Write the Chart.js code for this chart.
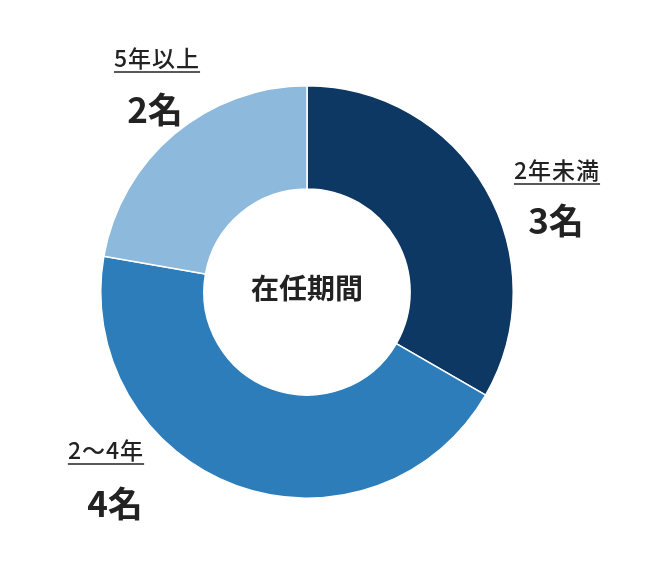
<!DOCTYPE html>
<html>
<head>
<meta charset="utf-8">
<script src="https://cdn.jsdelivr.net/npm/chart.js@4"></script>
<style>
  body { margin: 0; background: #fff; }
  canvas { display: block; }
</style>
</head>
<body>
<canvas id="myChart" width="646" height="567"></canvas>
<script>
// data
const categories = ['2年未満', '2〜4年', '5年以上'];
const counts = [3, 4, 2];
const countLabels = ['3名', '4名', '2名'];
const colors = ['#0d3863', '#2e7dbb', '#8cb9dc'];
const centerTitle = '在任期間';

// where the annotation texts go: category text center, count text center
const labelPos = [[557, 170], [106, 450], [157, 58]];
const countPos = [[556, 221], [115, 504], [155, 110]];

const textColor = '#222222';
const fontFamily = '"Noto Sans CJK JP", "Noto Sans", sans-serif';

const labelsPlugin = {
  id: 'labelsPlugin',
  afterDraw(chart) {
    const ctx = chart.ctx;
    ctx.save();
    ctx.fillStyle = textColor;
    ctx.strokeStyle = textColor;
    ctx.textAlign = 'center';
    ctx.textBaseline = 'middle';

    // center title
    const arc = chart.getDatasetMeta(0).data[0];
    ctx.font = 'bold 28px ' + fontFamily;
    ctx.fillText(centerTitle, arc.x, arc.y - 4);

    categories.forEach(function (cat, i) {
      const x = labelPos[i][0];
      const y = labelPos[i][1];
      ctx.font = '500 23px ' + fontFamily;
      ctx.letterSpacing = '1px';
      ctx.fillText(cat, x, y);
      const w = ctx.measureText(cat).width;
      ctx.letterSpacing = '0px';
      ctx.lineWidth = 1.5;
      ctx.beginPath();
      ctx.moveTo(x - w / 2, y + 14);
      ctx.lineTo(x + w / 2, y + 14);
      ctx.stroke();

      ctx.font = 'bold 35px ' + fontFamily;
      ctx.fillText(countLabels[i], countPos[i][0], countPos[i][1]);
    });
    ctx.restore();
  }
};

const data = {
  labels: categories,
  datasets: [{
    data: counts,
    backgroundColor: colors,
    borderColor: '#ffffff',
    borderWidth: 1.5
  }]
};

const config = {
  type: 'doughnut',
  data: data,
  options: {
    responsive: false,
    animation: false,
    cutout: '50%',
    layout: {
      padding: { left: 100, right: 132, top: 85, bottom: 68 }
    },
    plugins: {
      legend: { display: false },
      tooltip: { enabled: false }
    }
  },
  plugins: [labelsPlugin]
};

const myChart = new Chart(document.getElementById('myChart'), config);
</script>
</body>
</html>
